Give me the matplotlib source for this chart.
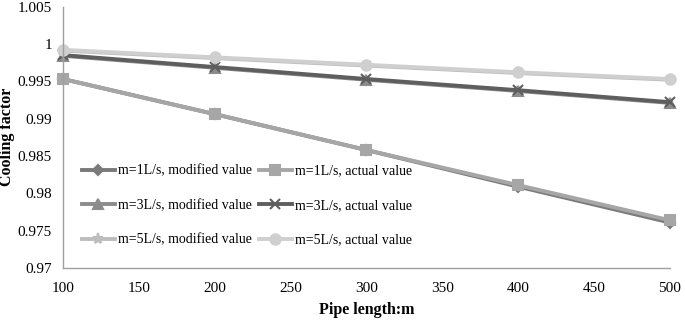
import numpy as np
import matplotlib.pyplot as plt

plt.rcParams['font.family'] = ['Liberation Serif', 'DejaVu Serif']

pipe_length = [100, 200, 300, 400, 500]
m1_modified = [0.9953, 0.9906, 0.9858, 0.9809, 0.9761]
m1_actual = [0.9953, 0.9906, 0.9858, 0.9811, 0.9764]
m3_modified = [0.9984, 0.9968, 0.9952, 0.9937, 0.9921]
m3_actual = [0.9985, 0.9969, 0.9953, 0.9938, 0.9922]
m5_modified = [0.9991, 0.9981, 0.9971, 0.9961, 0.9952]
m5_actual = [0.9992, 0.9982, 0.9972, 0.9962, 0.9953]

series = [
    ('m=1L/s, modified value', m1_modified, '#7a7a7a', 'D', 5.5),
    ('m=1L/s, actual value', m1_actual, '#a6a6a6', 's', 7.5),
    ('m=3L/s, modified value', m3_modified, '#8c8c8c', '^', 7.5),
    ('m=3L/s, actual value', m3_actual, '#5e5e5e', 'x', 7),
    ('m=5L/s, modified value', m5_modified, '#bdbdbd', '*', 8),
    ('m=5L/s, actual value', m5_actual, '#cfcfcf', 'o', 7.5),
]

fig = plt.figure(figsize=(6.85, 3.25), dpi=100)
ax = fig.add_axes([0.092, 0.175, 0.886, 0.805])

lines = []
for label, vals, color, marker, ms in series:
    ln, = ax.plot(pipe_length, vals, color=color, lw=2.8, marker=marker, ms=ms,
                  mew=1.5, label=label, clip_on=False)
    lines.append(ln)

ax.set_xlim(100, 500)
ax.set_ylim(0.97, 1.005)
ax.set_xticks(np.arange(100, 501, 50))
ax.set_yticks([0.97, 0.975, 0.98, 0.985, 0.99, 0.995, 1.0, 1.005])
ax.set_yticklabels(['0.97', '0.975', '0.98', '0.985', '0.99', '0.995', '1', '1.005'])

for s in ['top', 'right']:
    ax.spines[s].set_visible(False)
for s in ['left', 'bottom']:
    ax.spines[s].set_color('#a0a0a0')
    ax.spines[s].set_linewidth(1)
ax.tick_params(length=0, labelsize=11)
ax.tick_params(axis='y', pad=8)
ax.tick_params(axis='x', pad=10)

ax.set_xlabel('Pipe length:m', fontsize=11.5, fontweight='bold', labelpad=5)
ax.set_ylabel('Cooling factor', fontsize=11.5, fontweight='bold', labelpad=2)

# legend is filled row by row in the reference
order = [0, 2, 4, 1, 3, 5]
ax.legend([lines[i] for i in order], [series[i][0] for i in order],
          loc='lower left', bbox_to_anchor=(0.01, 0.035), ncol=2, frameon=False,
          fontsize=10, handlelength=2.4, handletextpad=0.2, columnspacing=0.5,
          labelspacing=1.55)

fig.savefig('out.png', dpi=100)
